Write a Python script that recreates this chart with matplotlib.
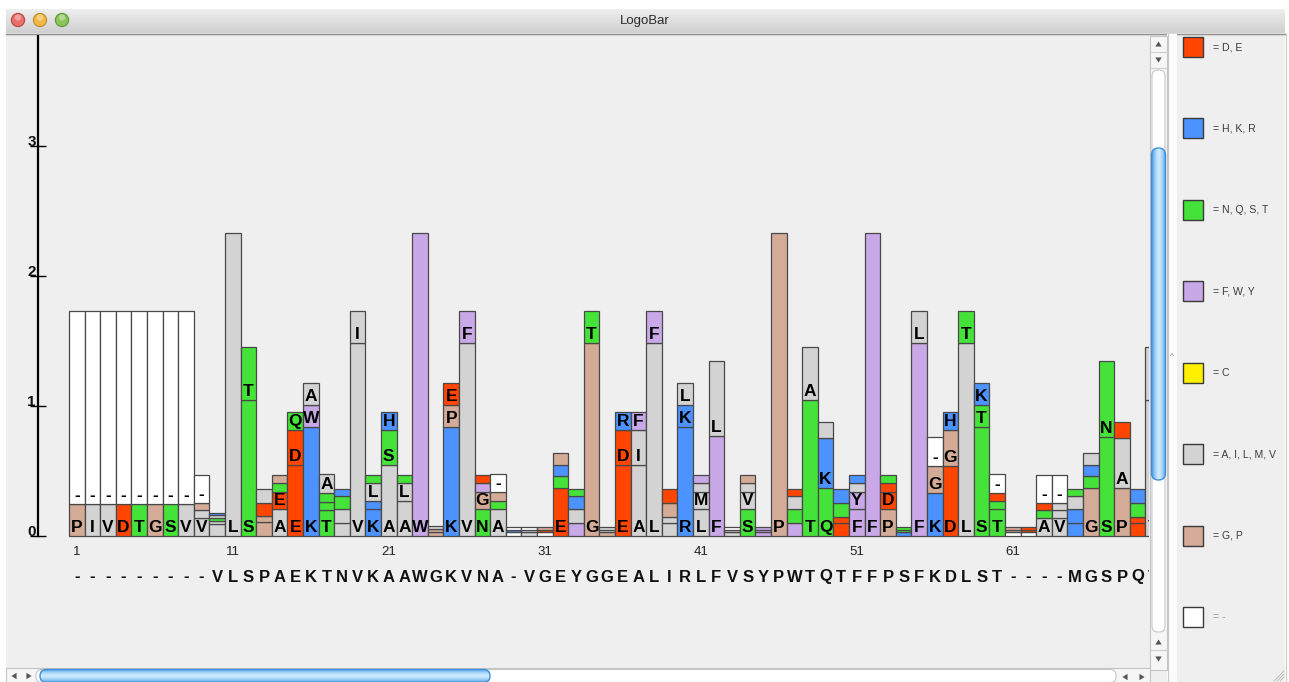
import numpy as np
import matplotlib
matplotlib.use("Agg")
import matplotlib.pyplot as plt
from matplotlib.patches import Rectangle, Circle, FancyBboxPatch, Polygon
import matplotlib.transforms as mtransforms

plt.rcParams['font.family'] = ['Liberation Sans', 'DejaVu Sans']

# ---------------------------------------------------------------- data
group_names = ["D, E", "H, K, R", "N, Q, S, T", "F, W, Y", "C",
               "A, I, L, M, V", "G, P", "-"]
group_colors = ["#FF4500", "#4C93FF", "#45E33A", "#C8A8E6", "#FFF000",
                "#D3D3D3", "#D3AB97", "#FFFFFF"]

consensus = "---------VLSPAEKTNVKAAWGKVNA-VGEYGGEALIRLFVSYPWTQTFFPSFKDLST----MGSPQV"
position_marks = [1, 11, 21, 31, 41, 51, 61]

# residues of every column, bottom to top
stack_letters = [
    "P-", "I-", "V-", "D-", "T-", "G-", "S-", "V-", "VIG-", "VLSAK",
    "L", "ST", "PGEA", "AETG", "EDQ", "KWA", "TSNA", "AVNK", "VI", "KRLS",
    "ASH", "ALS", "W", "GPA", "KPE", "VF", "NGFE", "ASP-", "-K-", "VA-",
    "-EG", "ESKP", "YVKT", "GT", "GAV", "EDR", "AIF", "LF", "IVGE", "RKL",
    "LMVF", "FL", "VA-", "SVAG", "YFW", "P", "WSAE", "TA", "QKV", "DESK",
    "FYVH", "F", "PDET", "KST", "FL", "KG-", "DGH", "LT", "STK", "TSE-",
    "-GP", "-ED", "ASE-", "VLI-", "KRMS", "GNKA", "SN", "PAE", "DEQK", "VI",
]

# height (bits) of every residue, same order as stack_letters
stack_heights = [
    [0.246, 1.487], [0.246, 1.487], [0.246, 1.487], [0.246, 1.487],
    [0.246, 1.487], [0.246, 1.487], [0.246, 1.487], [0.246, 1.487],
    [0.136, 0.064, 0.056, 0.213], [0.09, 0.025, 0.025, 0.02, 0.02],
    [2.328], [1.046, 0.41], [0.11, 0.044, 0.097, 0.108],
    [0.205, 0.136, 0.064, 0.064], [0.546, 0.269, 0.136],
    [0.841, 0.167, 0.172], [0.2, 0.064, 0.064, 0.146],
    [0.103, 0.103, 0.103, 0.051], [1.482, 0.251],
    [0.205, 0.064, 0.136, 0.064],
    [0.546, 0.269, 0.136], [0.269, 0.136, 0.064], [2.328],
    [0.03, 0.025, 0.02], [0.841, 0.167, 0.172], [1.482, 0.251],
    [0.205, 0.136, 0.064, 0.064], [0.205, 0.064, 0.072, 0.133],
    [0.03, 0.02, 0.02], [0.03, 0.02, 0.02],
    [0.03, 0.02, 0.02], [0.372, 0.09, 0.085, 0.095],
    [0.103, 0.103, 0.103, 0.051], [1.482, 0.251], [0.03, 0.02, 0.02],
    [0.546, 0.269, 0.136], [0.546, 0.269, 0.136], [1.482, 0.251],
    [0.103, 0.046, 0.103, 0.108], [0.841, 0.167, 0.172],
    [0.205, 0.136, 0.064, 0.064], [0.769, 0.577], [0.03, 0.02, 0.02],
    [0.205, 0.136, 0.064, 0.064], [0.03, 0.02, 0.02], [2.328],
    [0.103, 0.103, 0.103, 0.051], [1.046, 0.41], [0.372, 0.379, 0.123],
    [0.103, 0.046, 0.103, 0.108],
    [0.205, 0.136, 0.064, 0.064], [2.328], [0.205, 0.136, 0.064, 0.064],
    [0.03, 0.02, 0.02], [1.482, 0.251], [0.328, 0.213, 0.218],
    [0.541, 0.274, 0.136], [1.482, 0.251], [0.841, 0.167, 0.172],
    [0.205, 0.064, 0.064, 0.141],
    [0.03, 0.02, 0.02], [0.03, 0.02, 0.02], [0.136, 0.064, 0.056, 0.213],
    [0.136, 0.064, 0.056, 0.213], [0.103, 0.103, 0.103, 0.051],
    [0.372, 0.09, 0.085, 0.095], [0.764, 0.582], [0.372, 0.379, 0.123],
    [0.103, 0.046, 0.103, 0.108], [1.046, 0.41],
]

y_ticks = [0, 1, 2, 3]

# ---------------------------------------------------------------- layout
W, H, DPI = 1289, 682, 100
COL_PX = 15.6          # pixel width of one alignment column
UNIT_PX = 130.0        # pixels per bit
BASE_Y = 536           # pixel row of the zero line
FIRST_X = 69           # pixel column of the first bar's left edge
LABEL_MIN = 0.13       # residues shorter than this are not lettered

residue_color = {}
for name, col in zip(group_names, group_colors):
    for r in name.replace(" ", "").split(","):
        residue_color[r] = col

fig = plt.figure(figsize=(W / DPI, H / DPI), dpi=DPI)
fig.patch.set_facecolor("white")


def px_box(x0, y0, x1, y1):
    return [x0 / W, 1 - y1 / H, (x1 - x0) / W, (y1 - y0) / H]


# ---------------------------------------------------------------- window chrome
bg = fig.add_axes([0, 0, 1, 1])
bg.set_axis_off()

bg.add_patch(Rectangle((6, 33), 1279, 649, facecolor="#efefef", edgecolor="none"))

# title bar
g = np.linspace(0, 1, 40)[:, None, None]
top_c = np.array([0.935, 0.935, 0.935])
bot_c = np.array([0.815, 0.815, 0.815])
bg.imshow(top_c + (bot_c - top_c) * g * np.ones((1, 2, 1)),
          extent=[6, 1285, 33, 9], aspect="auto", interpolation="bilinear", zorder=1)
bg.plot([6, 1285], [33.5, 33.5], color="#8c8c8c", lw=1.0, zorder=2)
bg.plot([6, 1285], [35, 35], color="#d6d6d6", lw=0.8, zorder=2)
bg.text(645, 21, "LogoBar", ha="center", va="center", fontsize=9.5,
        color="#2a2a2a", zorder=3)
for cx, fc, ec in [(18, "#E8706A", "#B5473F"), (40, "#EFB84A", "#BE8A25"),
                   (62, "#8CC45A", "#5E9734")]:
    bg.add_patch(Circle((cx, 20), 6.6, facecolor=fc, edgecolor=ec, lw=0.8, zorder=3))
    bg.add_patch(Circle((cx, 17.5), 3.2, facecolor="white", alpha=0.35,
                        edgecolor="none", zorder=4))


def arrow(cx, cy, direction, size=3.2):
    s = size
    pts = {"up": [(cx - s, cy + s * 0.8), (cx + s, cy + s * 0.8), (cx, cy - s * 0.8)],
           "down": [(cx - s, cy - s * 0.8), (cx + s, cy - s * 0.8), (cx, cy + s * 0.8)],
           "left": [(cx + s * 0.8, cy - s), (cx + s * 0.8, cy + s), (cx - s * 0.8, cy)],
           "right": [(cx - s * 0.8, cy - s), (cx - s * 0.8, cy + s), (cx + s * 0.8, cy)]}
    bg.add_patch(Polygon(pts[direction], closed=True, facecolor="#555555",
                         edgecolor="none", zorder=5))


def blue_thumb(x0, y0, x1, y1, vertical):
    r = (x1 - x0) / 2 if vertical else (y1 - y0) / 2
    patch = FancyBboxPatch((x0, y0), x1 - x0, y1 - y0,
                           boxstyle=f"round,pad=0,rounding_size={r}",
                           facecolor="none", edgecolor="#3f8fd8", lw=1.0, zorder=6)
    bg.add_patch(patch)
    t = np.linspace(-1, 1, 30)
    prof = 1 - np.abs(t) ** 1.6
    dark = np.array([0.30, 0.62, 0.92])
    light = np.array([0.80, 0.92, 0.99])
    cols = dark + (light - dark) * prof[:, None]
    img = cols[None, :, :] if vertical else cols[:, None, :]
    im = bg.imshow(img, extent=[x0, x1, y1, y0], aspect="auto",
                   interpolation="bilinear", zorder=5)
    im.set_clip_path(patch)


# vertical scrollbar
bg.add_patch(Rectangle((1150, 36), 17, 634, facecolor="#f6f6f6",
                       edgecolor="#c4c4c4", lw=0.8, zorder=4))
for yy in (52, 68, 650):
    bg.plot([1150, 1167], [yy, yy], color="#cfcfcf", lw=0.8, zorder=5)
bg.add_patch(FancyBboxPatch((1152, 70), 13, 562, boxstyle="round,pad=0,rounding_size=6",
                            facecolor="white", edgecolor="#c8c8c8", lw=0.8, zorder=5))
arrow(1158.5, 44, "up")
arrow(1158.5, 60, "down")
arrow(1158.5, 642, "up")
arrow(1158.5, 659, "down")
blue_thumb(1151.5, 148, 1165.5, 480, vertical=True)

# horizontal scrollbar
bg.add_patch(Rectangle((6, 668), 1144, 16, facecolor="#f6f6f6",
                       edgecolor="#c4c4c4", lw=0.8, zorder=4))
bg.add_patch(FancyBboxPatch((36, 669.5), 1080, 13, boxstyle="round,pad=0,rounding_size=6",
                            facecolor="white", edgecolor="#c8c8c8", lw=0.8, zorder=5))
arrow(14, 676, "left")
arrow(29, 676, "right")
arrow(1125, 677, "left")
arrow(1142, 677, "right")
blue_thumb(40, 669.5, 490, 682.5, vertical=False)

# legend panel
bg.add_patch(Rectangle((1167, 34), 10, 648, facecolor="#fbfbfb",
                       edgecolor="none", zorder=2))
bg.plot([1167.5, 1167.5], [34, 682], color="#c9c9c9", lw=0.8, zorder=3)
bg.plot([1285.5, 1285.5], [34, 682], color="#c9c9c9", lw=0.8, zorder=3)
bg.text(1172, 357, "^", ha="center", va="center", fontsize=6, color="#777777", zorder=3)
for k in range(3):
    o = 4 + 3 * k
    bg.plot([1284 - o, 1284], [681, 681 - o], color="#b8b8b8", lw=0.6, zorder=3)

legend_y = np.linspace(47, 617, len(group_names))
for name, col, yy in zip(group_names, group_colors, legend_y):
    bg.add_patch(Rectangle((1183, yy - 10), 20, 20, facecolor=col,
                           edgecolor="#3a3a3a", lw=1.0, zorder=3))
    bg.text(1213, yy, "= " + name, ha="left", va="center", fontsize=7.6,
            color="#3c3c3c" if name != "-" else "#9a9a9a", zorder=3)

bg.set_xlim(0, W)
bg.set_ylim(H, 0)

# ---------------------------------------------------------------- logo axes
ax_left, ax_right, ax_top, ax_bottom = 38, 1149, 36, 600
ax = fig.add_axes(px_box(ax_left, ax_top, ax_right, ax_bottom))
ax.patch.set_alpha(0)
ax.set_xlim(0.5 - (FIRST_X - ax_left) / COL_PX, 0.5 + (ax_right - FIRST_X) / COL_PX)
y_top = (BASE_Y - ax_top) / UNIT_PX
ax.set_ylim(-(ax_bottom - BASE_Y) / UNIT_PX, y_top)

for i, (letters, heights) in enumerate(zip(stack_letters, stack_heights)):
    xpos = i + 1
    bottoms = np.concatenate([[0], np.cumsum(heights)[:-1]])
    ax.bar([xpos] * len(heights), heights, bottom=bottoms, width=1.0,
           color=[residue_color[r] for r in letters], edgecolor="#484848",
           linewidth=0.9, zorder=2)
    for r, h, b in zip(letters, heights, bottoms):
        if h >= LABEL_MIN:
            ax.text(xpos, b + 4 / UNIT_PX, r, ha="center", va="baseline",
                    fontsize=12.5, fontweight="bold", color="#000000",
                    zorder=3, clip_on=True)

# position numbers and consensus row
for p in position_marks:
    ax.text(p, -(552 - BASE_Y) / UNIT_PX, str(p), ha="center", va="center",
            fontsize=9.5, color="#222222", clip_on=True)
for i, c in enumerate(consensus):
    ax.text(i + 1, -(577 - BASE_Y) / UNIT_PX, c, ha="center", va="center",
            fontsize=12, fontweight="bold", color="#111111", clip_on=True)

# y axis
for s in ("top", "right", "bottom"):
    ax.spines[s].set_visible(False)
ax.spines["left"].set_linewidth(1.6)
ax.spines["left"].set_bounds(0, y_top)
ax.set_xticks([])
ax.set_yticks(y_ticks)
ax.set_yticklabels([])
ax.tick_params(axis="y", direction="inout", length=11, width=1.0, color="black")
lbl_tr = mtransforms.blended_transform_factory(ax.transAxes, ax.transData)
for t in y_ticks:
    ax.text(-2.0 / (ax_right - ax_left), t, str(t), transform=lbl_tr,
            ha="right", va="baseline", fontsize=11, fontweight="bold", color="#111111")

fig.savefig("out.png", dpi=DPI)
